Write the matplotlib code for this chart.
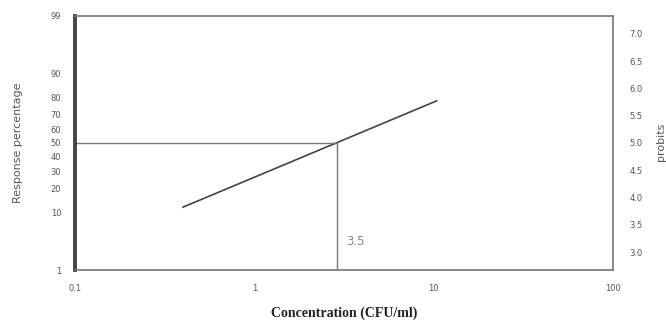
import matplotlib
matplotlib.use("Agg")
import matplotlib.pyplot as plt
import numpy as np
from statistics import NormalDist

# data
conc = [0.4, 10.4]            # CFU/ml
response = [12.0, 78.0]       # percent
ld50_conc = 2.9
ld50_label = "3.5"
x_ticks = [0.1, 1, 10, 100]
x_ticklabels = ["0.1", "1", "10", "100"]
pct_ticks = [1, 10, 20, 30, 40, 50, 60, 70, 80, 90, 99]
pct_ticklabels = ["1", "10", "20", "30", "40", "50", "60", "70", "80", "90", "99"]
probit_ticks = [3.0, 3.5, 4.0, 4.5, 5.0, 5.5, 6.0, 6.5, 7.0]

nd = NormalDist()
_fwd = np.vectorize(lambda v: nd.inv_cdf(v / 100.0) + 5, otypes=[float])
_inv = np.vectorize(lambda v: nd.cdf(v - 5) * 100.0, otypes=[float])


def to_probit(p):
    p = np.clip(np.asarray(p, dtype=float), 0.01, 99.99)
    return _fwd(p)


def from_probit(z):
    return _inv(np.asarray(z, dtype=float))


grey = "#555555"
fig = plt.figure(figsize=(6.66, 3.29), dpi=100)
ax = fig.add_axes([0.1126, 0.1793, 0.8078, 0.7721])
ax.set_xscale("log")
ax.set_yscale("function", functions=(to_probit, from_probit))
ax.set_xlim(0.1, 100)
ax.set_ylim(1, 99)

ax.plot(conc, response, color="#444444", lw=1.2)
ax.plot([0.1, ld50_conc], [50, 50], color="#777777", lw=1)
ax.plot([ld50_conc, ld50_conc], [1, 50], color="#777777", lw=1)
ax.text(ld50_conc * 1.12, 3.6, ld50_label, color="#888888", fontsize=8.5,
        va="center")

ax.set_xticks(x_ticks)
ax.set_xticklabels(x_ticklabels)
ax.xaxis.set_minor_locator(matplotlib.ticker.NullLocator())
ax.set_yticks(pct_ticks)
ax.set_yticklabels(pct_ticklabels)
ax.yaxis.set_minor_locator(matplotlib.ticker.NullLocator())
ax.tick_params(length=0, labelsize=6, colors=grey, pad=10)

for s in ["top", "right", "bottom"]:
    ax.spines[s].set_color("#777777")
    ax.spines[s].set_linewidth(1.2)
ax.spines["left"].set_color("#444444")
ax.spines["left"].set_linewidth(2.8)

ax2 = ax.twinx()
ax2.set_ylim(float(to_probit(1)), float(to_probit(99)))
ax2.set_yticks(probit_ticks)
ax2.set_yticklabels([f"{v:.1f}" for v in probit_ticks])
ax2.tick_params(length=0, labelsize=6, colors=grey, pad=12)
for s in ax2.spines.values():
    s.set_visible(False)

ax.set_ylabel("Response percentage", fontsize=8, color=grey, labelpad=20)
fig.text(0.993, 0.57, "probits", rotation=90, fontsize=8, color=grey,
         ha="center", va="center")
ax.set_xlabel("Concentration (CFU/ml)", fontsize=10, fontweight="bold",
              family="Liberation Serif", labelpad=10, color="#222222")

fig.savefig("out.png", dpi=100)
